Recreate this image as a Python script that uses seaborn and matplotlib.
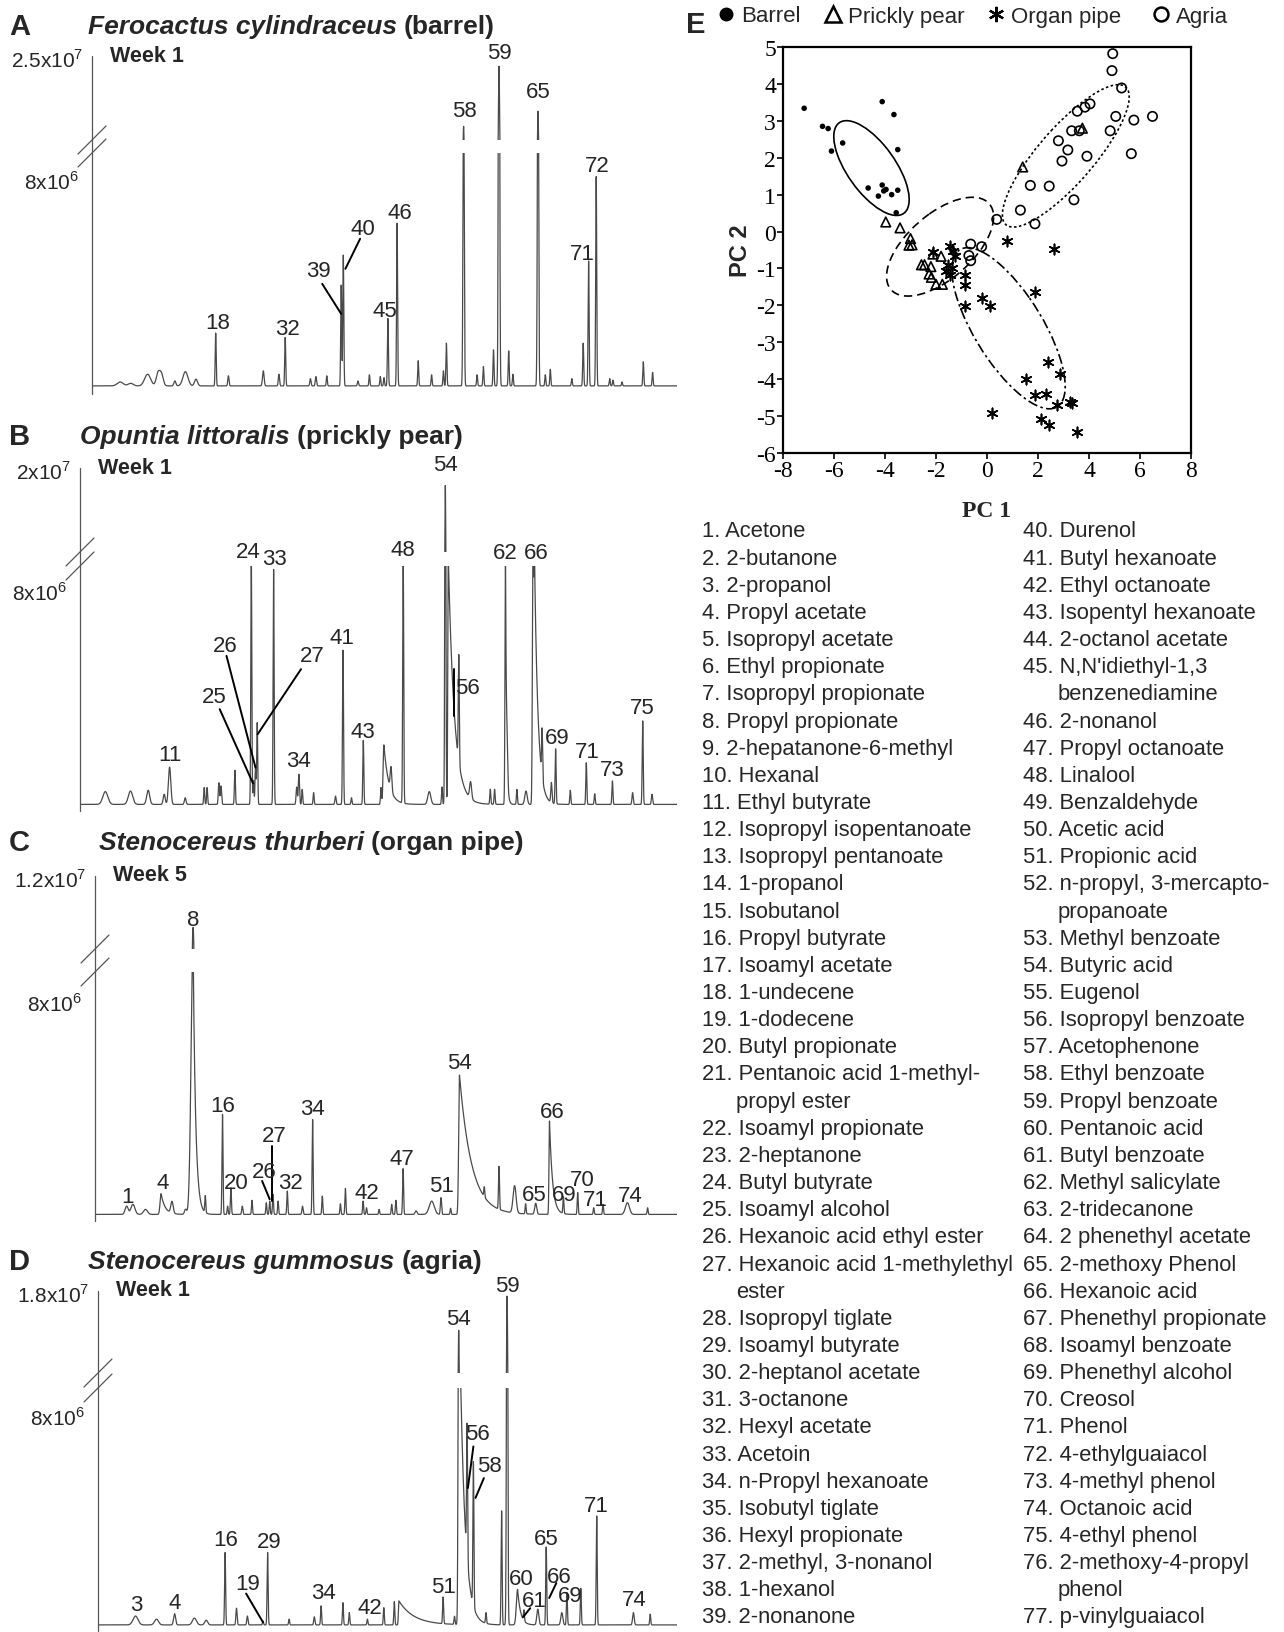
import numpy as np
import matplotlib
matplotlib.use("Agg")
import matplotlib.pyplot as plt
import seaborn as sns
from matplotlib.lines import Line2D
from matplotlib.patches import Ellipse

sns.set_theme(style="white")
plt.rcParams["font.family"] = ["Liberation Sans", "DejaVu Sans"]
plt.rcParams["mathtext.fontset"] = "custom"
plt.rcParams["mathtext.rm"] = "Liberation Sans"
plt.rcParams["axes.unicode_minus"] = False

# ---------------- chromatogram data (retention time in min, height in 1e6 counts) ----------------
A_rt = [2.82, 3.87, 5.56, 6.60, 6.94, 8.29, 9.34, 10.40, 12.37, 13.64,
        17.13, 18.69, 19.32, 21.84, 22.39, 23.48, 24.92, 25.13, 26.60, 27.74,
        28.83, 29.20, 29.59, 30.51, 32.62, 33.96, 35.14, 35.44, 37.16, 38.51,
        39.14, 40.15, 40.70, 41.67, 42.09, 44.60, 45.33, 45.83, 47.98, 49.12,
        49.66, 50.42, 51.77, 52.10, 53.00, 55.13, 56.06]
A_ht = [0.15, 0.10, 0.45, 0.48, 0.45, 0.19, 0.55, 0.26, 2.04, 0.39,
        0.58, 0.45, 1.87, 0.28, 0.36, 0.39, 3.89, 5.05, 0.19, 0.43,
        0.36, 0.32, 2.60, 6.28, 0.97, 0.43, 0.58, 1.65, 11.90, 0.43,
        0.75, 1.39, 22.97, 1.35, 0.45, 14.67, 0.43, 0.64, 0.28, 1.65,
        4.82, 8.08, 0.28, 0.22, 0.15, 0.93, 0.52]
A_wd = [0.30, 0.25, 0.30, 0.18, 0.18, 0.10, 0.25, 0.15, 0.05, 0.06,
        0.08, 0.06, 0.05, 0.06, 0.06, 0.05, 0.05, 0.05, 0.06, 0.05,
        0.05, 0.05, 0.05, 0.05, 0.05, 0.05, 0.05, 0.05, 0.06, 0.05,
        0.05, 0.05, 0.06, 0.05, 0.05, 0.06, 0.05, 0.05, 0.05, 0.05,
        0.05, 0.05, 0.05, 0.05, 0.05, 0.05, 0.05]
A_tail_rt, A_tail_tau = [], []
A_base = 0.12
A_lab = ["18", "32", "39", "40", "45", "46", "58", "59", "65", "71", "72"]
A_lab_t = [12.58, 19.57, 22.69, 27.10, 29.25, 30.81, 37.25, 40.70, 44.61, 49.03, 50.51]
A_lab_h = [2.58, 2.32, 4.57, 6.19, 3.03, 6.83, 10.76, 13.00, 11.49, 5.22, 8.63]
A_lead = [(23.02, 4.06, 24.92, 2.90), (26.81, 5.80, 25.34, 4.64)]

B_rt = [2.53, 5.05, 6.82, 8.42, 8.96, 10.52, 12.42, 12.71, 13.89, 14.10,
        15.49, 17.13, 17.35, 17.55, 17.72, 19.36, 21.67, 21.89, 22.22, 23.36,
        25.55, 26.30, 27.15, 28.33, 30.10, 30.39, 31.10, 32.32, 34.93, 36.20,
        36.53, 36.83, 37.88, 39.06, 41.03, 41.46, 42.55, 42.72, 43.69, 44.60,
        45.30, 45.45, 46.21, 47.14, 47.56, 49.03, 50.63, 51.47, 53.24, 55.26,
        56.27, 57.20]
B_ht = [0.48, 0.50, 0.53, 0.38, 1.40, 0.25, 0.63, 0.63, 0.81, 0.69,
        1.28, 9.30, 0.90, 1.44, 3.06, 8.81, 0.65, 1.13, 0.56, 0.44,
        0.31, 5.78, 0.25, 2.40, 0.63, 2.23, 0.88, 9.30, 0.48, 0.65,
        17.75, 9.30, 4.00, 0.63, 0.56, 0.56, 9.30, 1.00, 0.56, 0.50,
        9.30, 9.30, 1.81, 0.75, 2.06, 0.53, 1.56, 0.40, 0.88, 0.44,
        3.13, 0.38]
B_wd = [0.25, 0.22, 0.15, 0.10, 0.12, 0.08, 0.05, 0.05, 0.06, 0.06,
        0.05, 0.05, 0.05, 0.05, 0.05, 0.05, 0.06, 0.06, 0.05, 0.05,
        0.06, 0.05, 0.05, 0.05, 0.05, 0.08, 0.08, 0.05, 0.15, 0.05,
        0.05, 0.05, 0.05, 0.10, 0.05, 0.05, 0.05, 0.06, 0.05, 0.12,
        0.06, 0.06, 0.05, 0.06, 0.05, 0.05, 0.05, 0.05, 0.05, 0.06,
        0.05, 0.06]
B_tail_rt = [30.39, 36.83, 42.55, 45.45]
B_tail_tau = [0.50, 0.60, 0.10, 0.35]
B_base = 0.06
B_lab = ["11", "25", "26", "24", "33", "27", "34", "41", "43", "48", "54", "56", "62", "66", "69", "71", "73", "75"]
B_lab_t = [8.96, 13.47, 14.52, 16.84, 19.44, 23.23, 21.89, 26.18, 28.28, 32.32, 36.53, 38.72, 42.51, 45.66, 47.69, 50.72, 53.24, 56.19]
B_lab_h = [1.94, 4.10, 6.03, 9.56, 9.28, 5.63, 1.69, 6.31, 2.78, 9.63, 12.81, 4.44, 9.50, 9.50, 2.56, 2.06, 1.38, 3.69]
B_lead = [(13.97, 3.63, 17.30, 0.85), (14.65, 5.63, 17.55, 1.44),
          (22.10, 5.13, 17.76, 2.69), (37.37, 5.13, 37.37, 3.38)]

C_rt = [3.16, 3.79, 5.05, 6.61, 7.70, 9.05, 9.81, 11.03, 12.75, 13.26,
        13.59, 14.73, 15.70, 17.13, 17.47, 17.80, 18.31, 19.23, 20.75, 21.76,
        22.73, 24.54, 25.04, 26.81, 27.15, 28.41, 29.67, 30.09, 30.81, 32.11,
        33.67, 34.60, 35.56, 36.45, 38.93, 40.40, 41.96, 43.06, 44.07, 45.45,
        46.84, 48.27, 49.87, 50.80, 53.24, 55.26]
C_ht = [0.31, 0.38, 0.19, 0.78, 0.44, 0.19, 10.18, 0.63, 3.76, 0.31,
        1.00, 0.31, 0.53, 0.44, 0.50, 0.75, 0.50, 0.88, 0.31, 3.57,
        0.69, 0.40, 0.98, 0.50, 0.25, 0.19, 0.38, 0.53, 1.72, 0.13,
        0.50, 0.63, 0.23, 5.24, 0.38, 1.61, 1.03, 0.38, 0.41, 3.51,
        0.63, 0.82, 0.25, 0.38, 0.44, 0.25]
C_wd = [0.15, 0.20, 0.20, 0.10, 0.12, 0.10, 0.20, 0.05, 0.05, 0.05,
        0.05, 0.06, 0.05, 0.05, 0.05, 0.05, 0.05, 0.05, 0.06, 0.05,
        0.05, 0.05, 0.05, 0.05, 0.05, 0.05, 0.05, 0.05, 0.05, 0.10,
        0.25, 0.06, 0.05, 0.08, 0.05, 0.05, 0.15, 0.05, 0.10, 0.05,
        0.05, 0.05, 0.05, 0.05, 0.20, 0.05]
C_tail_rt = [6.61, 9.81, 36.45, 45.45]
C_tail_tau = [0.40, 0.25, 1.20, 0.30]
C_base = 0.06
C_lab = ["1", "4", "8", "16", "20", "26", "27", "32", "34", "42", "47", "51", "54", "65", "66", "69", "70", "71", "74"]
C_lab_t = [3.24, 6.73, 9.81, 12.75, 14.10, 16.96, 17.89, 19.57, 21.76, 27.23, 30.72, 34.64, 36.49, 43.90, 45.75, 46.93, 48.70, 50.00, 53.54]
C_lab_h = [0.75, 1.25, 11.16, 4.16, 1.25, 1.69, 3.03, 1.25, 4.04, 0.88, 2.16, 1.13, 5.77, 0.82, 3.95, 0.82, 1.38, 0.63, 0.78]
C_lead = [(16.71, 1.32, 17.47, 0.63), (17.68, 2.63, 17.68, 0.56)]

D_rt = [3.75, 5.85, 7.66, 9.64, 10.82, 12.71, 13.85, 14.94, 16.50, 16.96,
        19.11, 21.63, 22.31, 24.49, 25.13, 26.94, 28.58, 29.63, 30.09, 34.51,
        35.65, 36.07, 36.91, 37.54, 38.80, 40.36, 40.91, 41.96, 42.59, 43.98,
        44.82, 46.38, 46.89, 48.28, 49.87, 53.54, 55.22]
D_ht = [0.34, 0.22, 0.43, 0.26, 0.18, 2.77, 0.64, 0.34, 0.15, 2.77,
        0.22, 0.31, 0.73, 0.85, 0.47, 0.22, 0.66, 0.89, 0.92, 1.02,
        0.31, 13.85, 5.13, 5.51, 0.41, 4.36, 17.38, 1.36, 0.41, 0.60,
        2.98, 0.47, 1.24, 1.40, 4.17, 0.47, 0.41]
D_wd = [0.25, 0.20, 0.10, 0.20, 0.15, 0.05, 0.06, 0.06, 0.05, 0.05,
        0.05, 0.06, 0.05, 0.05, 0.05, 0.05, 0.05, 0.05, 0.05, 0.05,
        0.05, 0.06, 0.05, 0.05, 0.05, 0.05, 0.06, 0.12, 0.05, 0.10,
        0.05, 0.10, 0.05, 0.05, 0.05, 0.08, 0.05]
D_tail_rt = [30.09, 36.07, 41.96]
D_tail_tau = [1.50, 0.50, 0.30]
D_base = 0.08
D_lab = ["3", "4", "16", "19", "29", "34", "42", "51", "54", "56", "58", "59", "60", "61", "65", "66", "69", "71", "74"]
D_lab_t = [3.87, 7.66, 12.79, 14.94, 17.13, 22.52, 27.15, 34.51, 36.07, 37.96, 39.10, 40.91, 42.30, 43.66, 44.78, 46.17, 47.22, 49.87, 53.66]
D_lab_h = [0.85, 0.94, 3.34, 1.68, 3.28, 1.33, 0.73, 1.56, 11.82, 7.40, 6.17, 13.06, 1.85, 1.02, 3.37, 1.94, 1.20, 4.64, 1.07]
D_lead = [(14.81, 1.28, 16.50, 0.18), (37.54, 6.91, 36.99, 5.32), (38.59, 5.70, 37.75, 4.94),
          (43.22, 0.72, 42.51, 0.38), (45.83, 1.68, 45.12, 1.11)]

# ---------------- PCA scores ----------------
barrel_pc1 = [-7.17, -6.45, -6.23, -6.10, -5.66, -4.11, -3.65, -3.50, -4.66, -4.26, -4.11, -4.05, -3.96, -3.74, -3.50, -3.56]
barrel_pc2 = [3.34, 2.85, 2.79, 2.18, 2.40, 3.52, 3.17, 2.22, 1.18, 0.96, 1.26, 1.10, 1.14, 1.00, 1.12, 0.51]
prickly_pc1 = [-3.97, -3.41, -3.00, -3.06, -2.94, -2.12, -1.80, -2.57, -2.45, -2.20, -2.27, -2.18, -2.00, -1.75, 1.40, 3.74]
prickly_pc2 = [0.26, 0.10, -0.19, -0.37, -0.36, -0.61, -0.67, -0.90, -0.90, -0.95, -1.15, -1.24, -1.43, -1.43, 1.75, 2.80]
organ_pc1 = [-1.44, -1.33, -1.27, -1.51, -1.59, -1.45, -1.36, -0.86, -0.88, -0.86, -0.21, 0.12, 0.78, 2.61,
             1.90, 0.18, 1.51, 2.38, 2.87, 1.88, 2.31, 2.76, 3.24, 3.35, 2.11, 2.44, 3.54, -2.12]
organ_pc2 = [-0.40, -0.54, -0.67, -0.90, -1.06, -1.17, -0.99, -1.17, -1.44, -2.03, -1.79, -2.01, -0.26, -0.46,
             -1.65, -4.92, -3.99, -3.53, -3.85, -4.42, -4.40, -4.71, -4.62, -4.64, -5.09, -5.23, -5.44, -0.55]
agria_pc1 = [4.93, 4.90, 5.28, 3.54, 3.84, 4.04, 3.32, 3.62, 4.83, 5.05, 5.76, 6.49, 5.66, 2.80,
             3.17, 2.94, 3.92, 1.70, 2.44, 3.41, 1.31, 1.88, 0.38, -0.64, -0.21, -0.71, -0.64]
agria_pc2 = [4.82, 4.36, 3.89, 3.26, 3.37, 3.46, 2.73, 2.73, 2.73, 3.12, 3.02, 3.12, 2.11, 2.46,
             2.21, 1.91, 2.04, 1.25, 1.23, 0.86, 0.58, 0.21, 0.33, -0.34, -0.41, -0.65, -0.79]
# confidence ellipses: centre and two conjugate semi-diameters (PC units)
ell_cx = [-4.53, -1.84, 0.845, 3.09]
ell_cy = [1.72, -0.41, -2.62, 2.05]
ell_u = [(1.21, -1.25), (1.84, 1.22), (1.85, -2.15), (2.31, 1.885)]
ell_v = [(0.85, 0.295), (1.01, -0.55), (1.23, 0.383), (0.924, -0.409)]

groups = ["Barrel", "Prickly pear", "Organ pipe", "Agria"]

compounds = [
    "Acetone", "2-butanone", "2-propanol", "Propyl acetate", "Isopropyl acetate", "Ethyl propionate",
    "Isopropyl propionate", "Propyl propionate", "2-hepatanone-6-methyl", "Hexanal", "Ethyl butyrate",
    "Isopropyl isopentanoate", "Isopropyl pentanoate", "1-propanol", "Isobutanol", "Propyl butyrate",
    "Isoamyl acetate", "1-undecene", "1-dodecene", "Butyl propionate",
    "Pentanoic acid 1-methyl-\npropyl ester", "Isoamyl propionate", "2-heptanone", "Butyl butyrate",
    "Isoamyl alcohol", "Hexanoic acid ethyl ester", "Hexanoic acid 1-methylethyl\nester",
    "Isopropyl tiglate", "Isoamyl butyrate", "2-heptanol acetate", "3-octanone", "Hexyl acetate",
    "Acetoin", "n-Propyl hexanoate", "Isobutyl tiglate", "Hexyl propionate", "2-methyl, 3-nonanol",
    "1-hexanol", "2-nonanone",
    "Durenol", "Butyl hexanoate", "Ethyl octanoate", "Isopentyl hexanoate", "2-octanol acetate",
    "N,N'idiethyl-1,3\nbenzenediamine", "2-nonanol", "Propyl octanoate", "Linalool", "Benzaldehyde",
    "Acetic acid", "Propionic acid", "n-propyl, 3-mercapto-\npropanoate", "Methyl benzoate",
    "Butyric acid", "Eugenol", "Isopropyl benzoate", "Acetophenone", "Ethyl benzoate",
    "Propyl benzoate", "Pentanoic acid", "Butyl benzoate", "Methyl salicylate", "2-tridecanone",
    "2 phenethyl acetate", "2-methoxy Phenol", "Hexanoic acid", "Phenethyl propionate",
    "Isoamyl benzoate", "Phenethyl alcohol", "Creosol", "Phenol", "4-ethylguaiacol",
    "4-methyl phenol", "Octanoic acid", "4-ethyl phenol", "2-methoxy-4-propyl\nphenol",
    "p-vinylguaiacol"]

# ---------------- layout ----------------
W, H = 1284, 1633
fig = plt.figure(figsize=(W / 100, H / 100), dpi=100)


def box(x0, y0, x1, y1):
    ax = fig.add_axes([x0 / W, 1 - y1 / H, (x1 - x0) / W, (y1 - y0) / H])
    ax.patch.set_visible(False)
    return ax


over = box(0, 0, W, H)
over.set_xlim(0, W)
over.set_ylim(H, 0)
over.axis("off")
over.set_zorder(5)

VGAP = 9.5
TRACE = "#4a4a4a"
panels = [
    ("A", A_rt, A_ht, A_wd, A_tail_rt, A_tail_tau, A_base, A_lab, A_lab_t, A_lab_h, A_lead,
     dict(ax_x=92, top=57, gtop=141, gbot=154, zero=390, bot=395, ppm=25.9, vtop=25.0, ty=27, tx=88),
     ("Ferocactus cylindraceus", "(barrel)"), r"2.5x10$^{\mathregular{7}}$", "Week 1"),
    ("B", B_rt, B_ht, B_wd, B_tail_rt, B_tail_tau, B_base, B_lab, B_lab_t, B_lab_h, B_lead,
     dict(ax_x=80, top=469, gtop=553, gbot=567, zero=807, bot=812, ppm=26.67, vtop=20.0, ty=437, tx=80),
     ("Opuntia littoralis", "(prickly pear)"), r"2x10$^{\mathregular{7}}$", "Week 1"),
    ("C", C_rt, C_ht, C_wd, C_tail_rt, C_tail_tau, C_base, C_lab, C_lab_t, C_lab_h, C_lead,
     dict(ax_x=95, top=877, gtop=950, gbot=973, zero=1217, bot=1222, ppm=26.58, vtop=12.0, ty=843, tx=99),
     ("Stenocereus thurberi", "(organ pipe)"), r"1.2x10$^{\mathregular{7}}$", "Week 5"),
    ("D", D_rt, D_ht, D_wd, D_tail_rt, D_tail_tau, D_base, D_lab, D_lab_t, D_lab_h, D_lead,
     dict(ax_x=98, top=1292, gtop=1374, gbot=1389, zero=1628, bot=1632, ppm=26.13, vtop=18.0, ty=1262, tx=88),
     ("Stenocereus gummosus", "(agria)"), r"1.8x10$^{\mathregular{7}}$", "Week 1"),
]


def trace(t, rt, ht, wd, tail_rt, tail_tau, base, only_above=None):
    y = np.full(t.shape, base)
    taus = dict(zip(tail_rt, tail_tau))
    for r, h, w in zip(rt, ht, wd):
        if only_above is not None and h <= only_above:
            continue
        g = np.exp(-0.5 * ((t - r) / w) ** 2)
        tau = taus.get(r, 0) if only_above is None else 0
        if tau:
            g = np.where(t >= r, np.exp(-(t - r) / tau), g)
        y += h * g
    return y


for (key, rt, ht, wd, trt, ttau, base, lab, lab_t, lab_h, lead, g, title, toplab, week) in panels:
    tmax = (677 - g["ax_x"]) / 10
    t = np.arange(0, tmax, 0.01)

    lo = box(g["ax_x"], g["gbot"], 677, g["bot"])
    hi = box(g["ax_x"], g["top"], 677, g["gtop"])
    lo.set_ylim(-(g["bot"] - g["zero"]) / g["ppm"], (g["zero"] - g["gbot"]) / g["ppm"])
    hi.set_ylim(VGAP, g["vtop"])
    for ax in (lo, hi):
        ax.set_xlim(0, tmax)
        ax.axis("off")

    sns.lineplot(x=t, y=trace(t, rt, ht, wd, trt, ttau, base), ax=lo, color=TRACE,
                 lw=0.9, estimator=None, sort=False, legend=False)
    sns.lineplot(x=t, y=trace(t, rt, ht, wd, trt, ttau, base, only_above=VGAP), ax=hi,
                 color=TRACE, lw=0.9, estimator=None, sort=False, legend=False)

    for s, x, y in zip(lab, lab_t, lab_h):
        lo.text(x, y, s, ha="center", va="center", fontsize=16, clip_on=False)
    for x0, y0, x1, y1 in lead:
        lo.plot([x0, x1], [y0, y1], color="black", lw=1.4, clip_on=False)

    # axis line, break marks, scale labels, titles
    ax_x = g["ax_x"]
    over.plot([ax_x, ax_x], [g["top"], g["bot"]], color="#555555", lw=0.9)
    for yb in (g["gtop"], g["gbot"]):
        over.plot([ax_x - 14, ax_x + 14], [yb + 14, yb - 14], color="#555555", lw=0.9)
    over.text(ax_x - 9, g["top"] + 4, toplab, ha="right", va="center", fontsize=15)
    over.text(ax_x - 13, g["zero"] - 8 * g["ppm"], r"8x10$^{\mathregular{6}}$",
              ha="right", va="center", fontsize=15)
    over.text(ax_x + 18, g["top"] - 1, week, ha="left", va="center", fontsize=15.5, fontweight="bold")
    over.text(9, g["ty"], key, ha="left", va="center", fontsize=21, fontweight="bold")
    t1 = over.text(g["tx"], g["ty"], title[0], ha="left", va="center", fontsize=19,
                   fontweight="bold", fontstyle="italic")
    over.annotate(title[1], xy=(1, 0), xycoords=t1, xytext=(5, 0), textcoords="offset points",
                  ha="left", va="bottom", fontsize=19, fontweight="bold")

# ---------------- PCA panel ----------------
axE = box(783, 48, 1191, 454)
axE.patch.set_visible(True)
axE.set_facecolor("white")
sns.scatterplot(x=barrel_pc1, y=barrel_pc2, ax=axE, marker="o", s=16, color="black",
                edgecolor="none", linewidth=0)
sns.scatterplot(x=prickly_pc1, y=prickly_pc2, ax=axE, marker="^", s=48, color="black",
                facecolor="none", edgecolor="black", linewidth=1.2)
sns.scatterplot(x=organ_pc1, y=organ_pc2, ax=axE, marker=(6, 2, 0), s=55, color="black",
                linewidth=1.2)
sns.scatterplot(x=agria_pc1, y=agria_pc2, ax=axE, marker="o", s=45, color="black",
                facecolor="none", edgecolor="black", linewidth=1.2)

styles = ["-", (0, (5, 3)), (0, (6, 2, 1.5, 2)), (0, (1.5, 1.5))]
for cx, cy, u, v, ls in zip(ell_cx, ell_cy, ell_u, ell_v, styles):
    M = np.array([[u[0], v[0]], [u[1], v[1]]])
    U, S, _ = np.linalg.svd(M)
    ang = np.degrees(np.arctan2(U[1, 0], U[0, 0]))
    axE.add_patch(Ellipse((cx, cy), 2 * S[0], 2 * S[1], angle=ang, fill=False,
                          edgecolor="black", lw=1.2, linestyle=ls))

axE.set_xlim(-8, 8)
axE.set_ylim(-6, 5)
axE.set_xticks(range(-8, 9, 2))
axE.set_yticks(range(-6, 6))
for sp in axE.spines.values():
    sp.set_visible(True)
    sp.set_color("black")
    sp.set_linewidth(1.6)
axE.tick_params(direction="out", length=4, width=1.2, labelsize=17, left=True, bottom=True,
                top=False, right=False, pad=1, labelfontfamily="Liberation Serif", colors="black")
axE.set_xlabel("PC 1", fontsize=17, fontweight="bold", fontfamily="Liberation Serif")
axE.set_ylabel("PC 2", fontsize=17, fontweight="bold")
axE.xaxis.set_label_coords(0.5, -0.115)
axE.yaxis.set_label_coords(-0.075, 0.5)

over.text(686, 25, "E", ha="left", va="center", fontsize=21, fontweight="bold")
handles = [
    Line2D([0], [0], marker="o", ls="none", color="black", markersize=9),
    Line2D([0], [0], marker="^", ls="none", mfc="none", mec="black", markersize=11, mew=1.8),
    Line2D([0], [0], marker=(6, 2, 0), ls="none", color="black", markersize=11, mew=1.6),
    Line2D([0], [0], marker="o", ls="none", mfc="none", mec="black", markersize=10, mew=1.8),
]
key_x = [726, 833, 996, 1161]
for hnd, name, kx in zip(handles, groups, key_x):
    leg = fig.legend([hnd], [name], loc="center left", bbox_to_anchor=((kx - 9) / W, 1 - 17 / H),
                     frameon=False, fontsize=16, handlelength=0.8, handletextpad=0.3,
                     borderpad=0, borderaxespad=0)

# ---------------- compound list ----------------
def draw_column(x, first, names, y0=532, step=27.15, indent=34):
    row = 0
    for i, name in enumerate(names):
        parts = name.split("\n")
        over.text(x, y0 + row * step, f"{first + i}. {parts[0]}", ha="left", va="center", fontsize=15.8)
        row += 1
        for p in parts[1:]:
            over.text(x + indent, y0 + row * step, p, ha="left", va="center", fontsize=15.8)
            row += 1


draw_column(702, 1, compounds[:39])
draw_column(1023, 40, compounds[39:], indent=35)

fig.savefig("out.png", dpi=100)
